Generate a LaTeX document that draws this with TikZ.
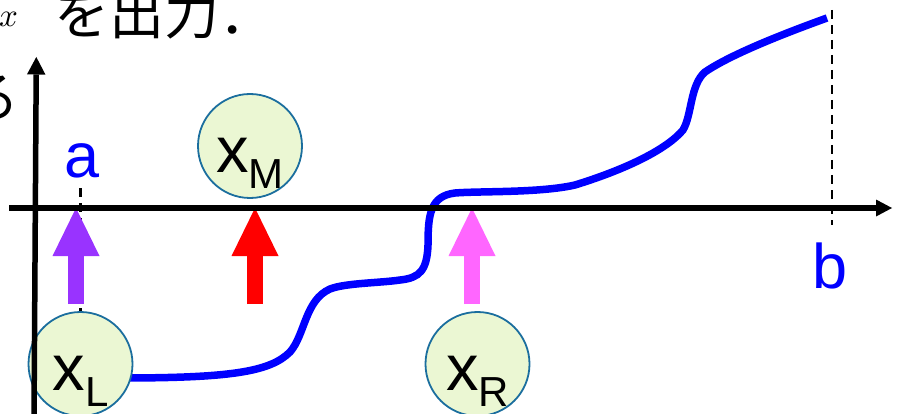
\documentclass[tikz,border=0pt]{standalone}
\usepackage{graphicx}
\usepackage{fontspec}
\newfontfamily\labelfont{Liberation Sans}
\newfontfamily\jpfont{Noto Sans CJK JP}
\usetikzlibrary{arrows.meta,calc}

\definecolor{curveblue}{RGB}{0,0,255}
\definecolor{bubblefill}{RGB}{235,247,211}
\definecolor{bubbleedge}{RGB}{27,110,158}
\definecolor{arrowpurple}{RGB}{153,51,255}
\definecolor{arrowred}{RGB}{255,0,0}
\definecolor{arrowpink}{RGB}{255,102,255}

% subscript letter of a point name
\newcommand\ptsub[1]{\raisebox{-16pt}{\fontsize{42}{42}\selectfont #1}}

\tikzset{
  axisline/.style={line width=5.5pt, black},
  bubble/.style={circle, draw=bubbleedge, fill=bubblefill, line width=1.8pt,
                 minimum size=104pt, inner sep=0pt},
  bubbletext/.style={anchor=base, inner sep=0pt,
                     font=\labelfont\fontsize{65}{65}\selectfont},
  endlabel/.style={anchor=base, inner sep=0pt, text=curveblue,
                   font=\labelfont\fontsize{63}{63}\selectfont},
  guide/.style={line width=2.5pt, dash pattern=on 9pt off 6pt},
  blockarrow/.style={line width=15.5pt,
                     -{Triangle[width=47pt,length=48pt,line width=0pt]}},
  graphcurve/.style={line width=7.5pt, curveblue},
  jptext/.style={anchor=base west, inner sep=0pt,
                 font=\jpfont\fontsize{55}{55}\selectfont},
}

\begin{document}
\begin{tikzpicture}[x=1pt,y=-1pt]
\useasboundingbox (0,0) rectangle (901,414);

% text lines above the graph
\node[anchor=base west, inner sep=0pt] (var) at (-1,27) {\scalebox{3.3}{$x$}};
\node[jptext] (outtext) at (54.5,35) {を出力．};
\node[jptext] (nextline) at (-36,118) {る};

% end point labels
\node[endlabel] (alab) at (82,178) {a};
\node[endlabel] (blab) at (830,288) {b};

% the function graph
\coordinate (cstart) at (120,378);
\coordinate (cend) at (827,18);
\draw[graphcurve] (cstart)
  .. controls (230,378) and (270,372) .. (290,352)
  .. controls (305,335) and (305,300) .. (330,289)
  .. controls (345,283) and (380,283) .. (400,280)
  .. controls (420,278) and (427,270) .. (428,245)
  .. controls (428,215) and (430,196) .. (455,193)
  .. controls (480,191) and (540,193) .. (575,185)
  .. controls (630,168) and (668,148) .. (683,130)
  .. controls (692,115) and (690,85) .. (705,72)
  .. controls (730,55) and (780,35) .. (cend);

% points x_L, x_M, x_R
\node[bubble] (xl) at (80.5,364) {};
\node[bubble] (xm) at (250,146) {};
\node[bubble] (xr) at (477.5,364) {};

% dashed guides at a and b
\coordinate (atop) at (80.5,188);
\draw[guide] (atop) -- (xl.north);
\coordinate (btop) at (832,10);
\coordinate (bbot) at (832,225);
\draw[guide] (btop) -- (bbot);

% block arrows pointing at the axis
\coordinate (lfoot) at (76,304);  \coordinate (ltip) at (76,208);
\coordinate (mfoot) at (255,304); \coordinate (mtip) at (255,208);
\coordinate (rfoot) at (472,304); \coordinate (rtip) at (472,208);
\draw[blockarrow, arrowpurple] (lfoot) -- (ltip);
\draw[blockarrow, arrowred] (mfoot) -- (mtip);
\draw[blockarrow, arrowpink] (rfoot) -- (rtip);

% axes
\coordinate (xaxs) at (9,208);
\coordinate (xaxe) at (892,208);
\coordinate (yaxs) at (34,420);
\coordinate (yaxe) at (36.3,57);
\draw[axisline, -{Triangle[width=17pt,length=16pt,line width=0pt]}] (xaxs) -- (xaxe);
\draw[axisline, -{Triangle[width=18.5pt,length=17.5pt,line width=0pt]}] (yaxs) -- (yaxe);

% names inside the points
\node[bubbletext] (xltext) at ($(xl.center)+(0,26)$) {x\ptsub{L}};
\node[bubbletext] (xmtext) at ($(xm.center)+(0,26)$) {x\ptsub{M}};
\node[bubbletext] (xrtext) at ($(xr.center)+(0,26)$) {x\ptsub{R}};
\end{tikzpicture}
\end{document}
